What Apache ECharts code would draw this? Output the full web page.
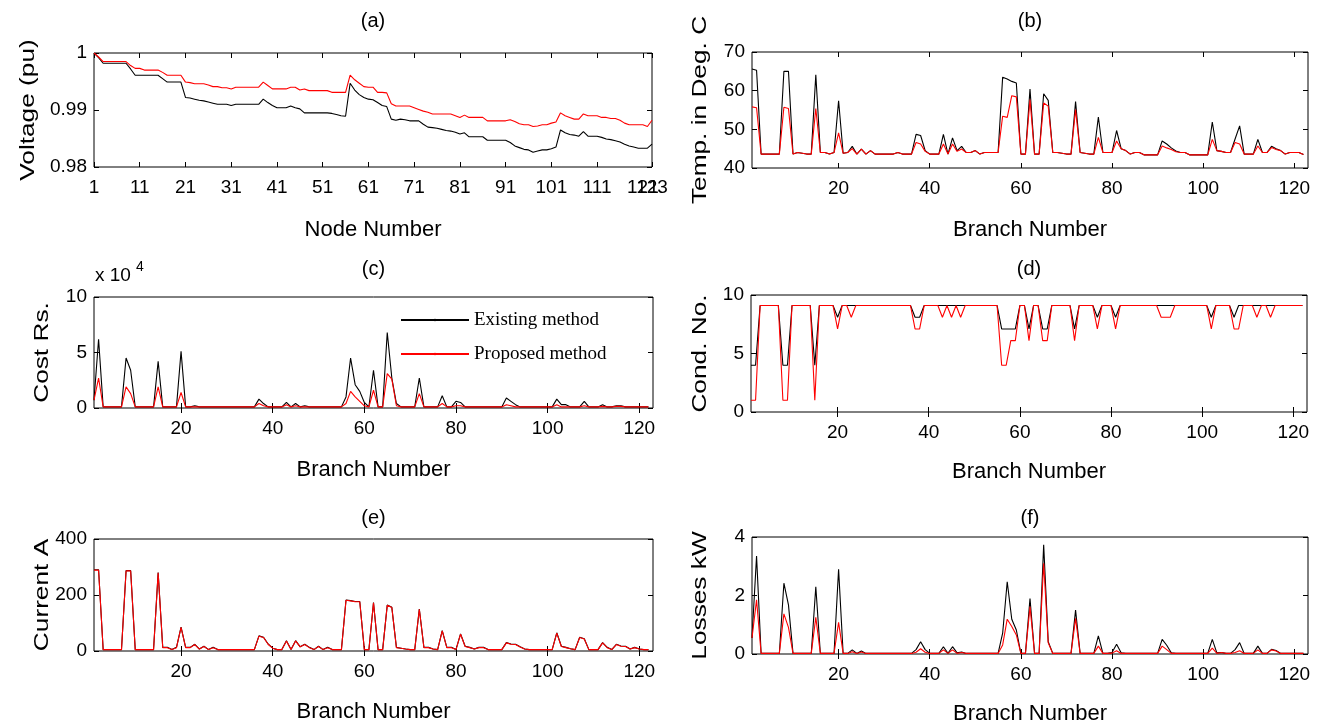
<!DOCTYPE html>
<html><head><meta charset="utf-8">
<script src="https://cdn.jsdelivr.net/npm/echarts@6/dist/echarts.min.js"></script>
<style>html,body{margin:0;padding:0;background:#fff}#c{width:1330px;height:726px}</style>
</head><body><div id="c"></div>
<script>
// ---------- tick labels ----------
const nodeTicks = [1, 11, 21, 31, 41, 51, 61, 71, 81, 91, 101, 111, 121, 123];
const nodeTickOverlap = [121];
const branchTicks = [20, 40, 60, 80, 100, 120];
const voltageTicks = [0.98, 0.99, 1];
const tempTicks = [40, 50, 60, 70];
const costTicks = [0, 50000, 100000];
const condTicks = [0, 5, 10];
const currentTicks = [0, 200, 400];
const lossTicks = [0, 2, 4];

// ---------- (a) node voltage, pu (nodes 1..123) ----------
const voltageExisting = [
 1.0000,0.9992,0.9982,0.9982,0.9982,0.9982,0.9982,0.9982,0.9972,0.9961,
 0.9961,0.9961,0.9961,0.9961,0.9961,0.9955,0.9949,0.9949,0.9949,0.9949,
 0.9922,0.9921,0.9919,0.9917,0.9916,0.9914,0.9912,0.9910,0.9910,0.9910,
 0.9908,0.9910,0.9910,0.9910,0.9910,0.9910,0.9910,0.9919,0.9913,0.9908,
 0.9904,0.9904,0.9904,0.9907,0.9904,0.9902,0.9895,0.9895,0.9895,0.9895,
 0.9895,0.9895,0.9894,0.9892,0.9890,0.9889,0.9947,0.9935,0.9927,0.9922,
 0.9919,0.9918,0.9913,0.9908,0.9906,0.9884,0.9882,0.9884,0.9883,0.9881,
 0.9881,0.9881,0.9875,0.9870,0.9869,0.9868,0.9866,0.9864,0.9863,0.9861,
 0.9858,0.9860,0.9853,0.9853,0.9853,0.9853,0.9847,0.9847,0.9847,0.9847,
 0.9847,0.9843,0.9837,0.9834,0.9831,0.9830,0.9826,0.9828,0.9830,0.9830,
 0.9832,0.9835,0.9865,0.9860,0.9857,0.9856,0.9854,0.9862,0.9854,0.9854,
 0.9854,0.9852,0.9849,0.9848,0.9846,0.9844,0.9840,0.9837,0.9835,0.9833,
 0.9833,0.9833,0.9840
];
const voltageProposed = [
 1.0000,0.9993,0.9985,0.9985,0.9985,0.9985,0.9985,0.9985,0.9978,0.9973,
 0.9973,0.9970,0.9970,0.9970,0.9970,0.9966,0.9961,0.9961,0.9961,0.9961,
 0.9949,0.9948,0.9946,0.9946,0.9946,0.9944,0.9941,0.9941,0.9939,0.9939,
 0.9937,0.9940,0.9940,0.9940,0.9940,0.9940,0.9940,0.9949,0.9943,0.9937,
 0.9937,0.9937,0.9937,0.9940,0.9940,0.9935,0.9937,0.9934,0.9934,0.9934,
 0.9934,0.9934,0.9931,0.9931,0.9931,0.9931,0.9961,0.9953,0.9947,0.9941,
 0.9940,0.9940,0.9931,0.9931,0.9930,0.9911,0.9907,0.9907,0.9907,0.9907,
 0.9904,0.9901,0.9898,0.9896,0.9893,0.9893,0.9893,0.9893,0.9893,0.9890,
 0.9887,0.9891,0.9887,0.9887,0.9887,0.9887,0.9881,0.9881,0.9881,0.9881,
 0.9881,0.9883,0.9880,0.9876,0.9874,0.9874,0.9871,0.9872,0.9874,0.9874,
 0.9877,0.9879,0.9895,0.9890,0.9887,0.9884,0.9884,0.9893,0.9890,0.9890,
 0.9890,0.9887,0.9887,0.9885,0.9885,0.9882,0.9877,0.9874,0.9874,0.9874,
 0.9874,0.9871,0.9882
];

// ---------- (b) conductor temperature, deg C (branches 1..122) ----------
const tempExisting = [
 65.6,65.3,43.6,43.6,43.6,43.6,43.6,65.0,65.0,43.6,
 44.0,43.8,43.6,43.6,64.1,44.0,44.0,43.6,44.0,57.4,
 43.8,44.0,45.6,43.6,44.9,43.6,44.5,43.6,43.6,43.6,
 43.6,43.6,44.0,43.6,43.6,43.6,48.7,48.4,44.5,43.6,
 43.6,43.6,48.7,43.6,47.8,44.5,45.6,44.0,44.0,44.5,
 43.6,44.0,44.0,44.0,44.0,63.5,63.0,62.4,62.0,43.6,
 43.6,60.4,43.6,43.6,59.2,57.5,44.0,44.0,43.8,43.6,
 43.6,57.2,44.0,43.8,43.6,43.6,53.2,44.0,44.0,44.0,
 49.7,45.0,44.5,43.6,44.0,44.0,43.4,43.4,43.4,43.4,
 47.0,46.2,45.2,44.4,44.0,44.0,43.4,43.4,43.4,43.4,
 43.4,51.9,44.5,44.3,44.0,44.0,47.5,50.9,43.6,43.6,
 43.6,47.4,44.0,44.0,45.6,45.0,44.5,43.6,44.0,44.0,
 44.0,43.5
];
const tempProposed = [
 55.8,55.6,43.6,43.6,43.6,43.6,43.6,55.7,55.4,43.6,
 44.0,43.8,43.6,43.6,55.4,44.0,44.0,43.6,44.0,49.1,
 43.8,44.0,45.0,43.6,44.9,43.6,44.5,43.6,43.6,43.6,
 43.6,43.6,44.0,43.6,43.6,43.6,46.6,46.2,44.3,43.6,
 43.6,43.6,46.2,43.6,46.2,44.3,44.9,44.0,44.0,44.5,
 43.6,44.0,44.0,44.0,44.0,53.4,53.1,58.7,58.4,43.6,
 43.6,57.7,43.6,43.6,56.8,56.0,44.0,44.0,43.8,43.6,
 43.6,55.1,44.0,43.8,43.6,43.6,47.9,44.0,44.0,44.0,
 47.0,45.0,44.5,43.6,44.0,44.0,43.4,43.4,43.4,43.4,
 45.7,45.2,44.8,44.2,44.0,44.0,43.4,43.4,43.4,43.4,
 43.4,47.4,44.5,44.3,44.0,44.0,46.6,46.2,43.6,43.6,
 43.6,45.7,44.0,44.0,45.3,44.8,44.5,43.6,44.0,44.0,
 44.0,43.5
];

// ---------- (c) cost, Rs. ----------
const costExisting = [
 7000,62000,1000,1000,1000,1000,1000,45000,34000,1000,
 1000,1000,1000,1000,42000,1000,1000,1000,1000,51000,
 1000,1000,2000,1000,1000,1000,1000,1000,1000,1000,
 1000,1000,1000,1000,1000,1000,8000,4000,1000,1000,
 1000,1000,5000,1000,4000,1000,2000,1000,1000,1000,
 1000,1000,1000,1000,1000,10000,45000,21000,15000,5000,
 1000,34000,1000,1000,68000,27000,4000,1000,1000,1000,
 1000,27000,1000,1000,1000,1000,11000,1000,1000,6000,
 5000,1000,1000,1000,1000,1000,1000,1000,1000,1000,
 9000,6000,3000,1000,1000,1000,1000,1000,1000,1000,
 1000,8000,3000,3000,1000,1000,1000,6000,1000,1000,
 1000,3000,1000,1000,2000,2000,1000,1000,1000,1000,
 1000,1000
];
const costProposed = [
 7000,27000,1000,1000,1000,1000,1000,19000,13000,1000,
 1000,1000,1000,1000,19000,1000,1000,1000,1000,14000,
 1000,1000,1000,1000,1000,1000,1000,1000,1000,1000,
 1000,1000,1000,1000,1000,1000,4000,2000,1000,1000,
 1000,1000,3000,1000,2000,1000,1000,1000,1000,1000,
 1000,1000,1000,1000,1000,4000,15000,10000,6000,2000,
 1000,16000,1000,1000,31000,26000,2000,1000,1000,1000,
 1000,13000,1000,1000,1000,1000,4000,1000,1000,2000,
 2000,1000,1000,1000,1000,1000,1000,1000,1000,1000,
 3000,2000,1000,1000,1000,1000,1000,1000,1000,1000,
 1000,3000,1000,1000,1000,1000,1000,2000,1000,1000,
 1000,1500,1000,1000,1500,1500,1000,1000,1000,1000,
 1000,1000
];

// ---------- (d) conductor number ----------
const condExisting = [
 4.0,4.0,9.1,9.1,9.1,9.1,9.1,4.0,4.0,9.1,
 9.1,9.1,9.1,9.1,4.0,9.1,9.1,9.1,9.1,8.1,
 9.1,9.1,9.1,9.1,9.1,9.1,9.1,9.1,9.1,9.1,
 9.1,9.1,9.1,9.1,9.1,9.1,8.1,8.1,9.1,9.1,
 9.1,9.1,9.1,9.1,9.1,9.1,9.1,9.1,9.1,9.1,
 9.1,9.1,9.1,9.1,9.1,7.1,7.1,7.1,7.1,9.1,
 9.1,7.1,9.1,9.1,7.1,7.1,9.1,9.1,9.1,9.1,
 9.1,7.1,9.1,9.1,9.1,9.1,8.1,9.1,9.1,9.1,
 8.1,9.1,9.1,9.1,9.1,9.1,9.1,9.1,9.1,9.1,
 9.1,9.1,9.1,9.1,9.1,9.1,9.1,9.1,9.1,9.1,
 9.1,8.1,9.1,9.1,9.1,9.1,8.1,9.1,9.1,9.1,
 9.1,9.1,9.1,9.1,9.1,9.1,9.1,9.1,9.1,9.1,
 9.1,9.1
];
const condProposed = [
 1.0,1.0,9.1,9.1,9.1,9.1,9.1,1.0,1.0,9.1,
 9.1,9.1,9.1,9.1,1.0,9.1,9.1,9.1,9.1,7.1,
 9.1,9.1,8.1,9.1,9.1,9.1,9.1,9.1,9.1,9.1,
 9.1,9.1,9.1,9.1,9.1,9.1,7.1,7.1,9.1,9.1,
 9.1,9.1,8.1,9.1,8.1,9.1,8.1,9.1,9.1,9.1,
 9.1,9.1,9.1,9.1,9.1,4.0,4.0,6.1,6.1,9.1,
 9.1,6.1,9.1,9.1,6.1,6.1,9.1,9.1,9.1,9.1,
 9.1,6.1,9.1,9.1,9.1,9.1,7.1,9.1,9.1,9.1,
 7.1,9.1,9.1,9.1,9.1,9.1,9.1,9.1,9.1,9.1,
 8.1,8.1,8.1,9.1,9.1,9.1,9.1,9.1,9.1,9.1,
 9.1,7.1,9.1,9.1,9.1,9.1,7.1,7.1,9.1,9.1,
 9.1,8.1,9.1,9.1,8.1,9.1,9.1,9.1,9.1,9.1,
 9.1,9.1
];

// ---------- (e) current, A ----------
const currentExisting = [
 290,290,5,5,5,5,5,287,287,5,
 5,5,5,5,280,13,13,5,13,85,
 13,13,24,7,17,5,13,5,5,5,
 5,5,5,5,5,5,54,49,25,10,
 5,5,37,5,37,15,24,13,5,17,
 5,13,5,5,5,182,180,177,177,5,
 5,173,5,5,164,156,13,10,7,5,
 5,150,13,13,7,5,73,13,13,5,
 61,17,13,7,13,13,5,5,5,5,
 30,25,24,15,7,5,5,5,5,5,
 5,65,17,13,8,5,49,44,5,5,
 5,30,13,5,24,18,17,7,13,7,
 5,5
];
const currentProposed = [
 289,289,5,5,5,5,5,286,286,5,
 5,5,5,5,279,12,12,5,12,84,
 12,12,23,7,16,5,12,5,5,5,
 5,5,5,5,5,5,53,48,24,10,
 5,5,36,5,36,15,23,12,5,16,
 5,12,5,5,5,181,179,176,176,5,
 5,172,5,5,163,155,12,10,7,5,
 5,149,12,12,7,5,72,12,12,5,
 60,16,12,7,12,12,5,5,5,5,
 29,24,23,14,7,5,5,5,5,5,
 5,64,16,12,8,5,48,43,5,5,
 5,29,12,5,23,17,16,7,12,7,
 5,5
];

// ---------- (f) losses, kW ----------
const lossExisting = [
 0.55,3.35,0.02,0.02,0.02,0.02,0.02,2.42,1.68,0.02,
 0.02,0.02,0.02,0.02,2.30,0.02,0.02,0.02,0.02,2.90,
 0.02,0.02,0.14,0.02,0.10,0.02,0.02,0.02,0.02,0.02,
 0.02,0.02,0.02,0.02,0.02,0.02,0.15,0.42,0.15,0.02,
 0.02,0.02,0.25,0.02,0.25,0.04,0.07,0.02,0.02,0.02,
 0.02,0.02,0.02,0.02,0.02,0.71,2.47,1.19,0.82,0.02,
 0.02,1.90,0.02,0.02,3.73,0.42,0.02,0.02,0.02,0.02,
 0.02,1.50,0.02,0.02,0.02,0.02,0.62,0.02,0.02,0.05,
 0.33,0.04,0.02,0.02,0.02,0.02,0.02,0.02,0.02,0.02,
 0.50,0.30,0.04,0.02,0.02,0.02,0.02,0.02,0.02,0.02,
 0.02,0.50,0.04,0.05,0.02,0.02,0.15,0.39,0.02,0.02,
 0.02,0.27,0.02,0.02,0.16,0.12,0.02,0.02,0.02,0.02,
 0.02,0.02
];
const lossProposed = [
 0.55,1.85,0.02,0.02,0.02,0.02,0.02,1.37,0.91,0.02,
 0.02,0.02,0.02,0.02,1.25,0.02,0.02,0.02,0.02,1.08,
 0.02,0.02,0.08,0.02,0.07,0.02,0.02,0.02,0.02,0.02,
 0.02,0.02,0.02,0.02,0.02,0.02,0.06,0.18,0.06,0.02,
 0.02,0.02,0.14,0.02,0.14,0.02,0.05,0.02,0.02,0.02,
 0.02,0.02,0.02,0.02,0.02,0.31,1.19,0.94,0.65,0.02,
 0.02,1.62,0.02,0.02,3.10,0.38,0.02,0.02,0.02,0.02,
 0.02,1.22,0.02,0.02,0.02,0.02,0.27,0.02,0.02,0.03,
 0.11,0.02,0.02,0.02,0.02,0.02,0.02,0.02,0.02,0.02,
 0.27,0.15,0.02,0.02,0.02,0.02,0.02,0.02,0.02,0.02,
 0.02,0.20,0.02,0.05,0.02,0.02,0.05,0.11,0.02,0.02,
 0.02,0.14,0.02,0.02,0.14,0.10,0.02,0.02,0.02,0.02,
 0.02,0.02
];

const seriesNames = ['Existing method', 'Proposed method'];

// ---------- layout / style ----------
const SANS = "'Liberation Sans', Arial, sans-serif";
const SERIF = "'Liberation Serif', 'Times New Roman', serif";
const panels = [
  {title:'(a)', xName:'Node Number',   yName:'Voltage (pu)',    ex:voltageExisting, pr:voltageProposed, yMin:0.98, yMax:1,      yTicks:voltageTicks, xTicks:nodeTicks,   box:[94,53,558,114],  xGap:52, yNameX:28,  tY:11,  edge:true},
  {title:'(b)', xName:'Branch Number', yName:'Temp. in Deg. C', ex:tempExisting,    pr:tempProposed,    yMin:40,   yMax:70,     yTicks:tempTicks,    xTicks:branchTicks, box:[752,52,556,116], xGap:51, yNameX:700, tY:11},
  {title:'(c)', xName:'Branch Number', yName:'Cost Rs.',        ex:costExisting,    pr:costProposed,    yMin:0,    yMax:100000, yTicks:costTicks,    xTicks:branchTicks, box:[94,297,559,111], xGap:51, yNameX:42,  tY:259, fmt:v=>String(v/10000)},
  {title:'(d)', xName:'Branch Number', yName:'Cond. No.',       ex:condExisting,    pr:condProposed,    yMin:0,    yMax:10,     yTicks:condTicks,    xTicks:branchTicks, box:[751,295,556,117],xGap:49, yNameX:700, tY:259},
  {title:'(e)', xName:'Branch Number', yName:'Current A',       ex:currentExisting, pr:currentProposed, yMin:0,    yMax:400,    yTicks:currentTicks, xTicks:branchTicks, box:[94,539,559,112], xGap:50, yNameX:42,  tY:508},
  {title:'(f)', xName:'Branch Number', yName:'Losses kW',       ex:lossExisting,    pr:lossProposed,    yMin:0,    yMax:4,      yTicks:lossTicks,    xTicks:branchTicks, box:[752,537,556,117],xGap:49, yNameX:700, tY:508},
];

const grid = [], xAxis = [], yAxis = [], series = [], title = [], graphic = [];
const tickStyle = {show:true, inside:true, length:5, lineStyle:{color:'#000', width:1}};
const labelStyle = {color:'#000', fontSize:19, fontFamily:SANS};
const nameStyle = {color:'#000', fontSize:22, fontFamily:SANS};

panels.forEach((p, i) => {
  const [l, t, w, h] = p.box;
  grid.push({left:l, top:t, width:w, height:h, show:true, borderColor:'#000', borderWidth:1, backgroundColor:'#fff', containLabel:false});
  const common = {type:'value', gridIndex:i, min:1, max:123, splitLine:{show:false}, axisLine:{show:false}};
  const xi = xAxis.length, yi = yAxis.length;
  xAxis.push(Object.assign({}, common, {
    position:'bottom',
    axisTick:Object.assign({customValues:p.xTicks}, tickStyle),
    axisLabel:Object.assign({customValues:p.xTicks, margin:11, hideOverlap:false},
      p.edge ? {showMinLabel:true, showMaxLabel:true} : {}, labelStyle),
    name:p.xName, nameLocation:'middle', nameGap:p.xGap, nameTextStyle:nameStyle
  }));
  xAxis.push(Object.assign({}, common, {
    position:'top',
    axisTick:Object.assign({customValues:p.xTicks}, tickStyle),
    axisLabel:{show:false}
  }));
  if (p.edge) {
    // the "121" label that overlaps "123" in the reference
    xAxis.push(Object.assign({}, common, {
      position:'bottom', axisTick:{show:false},
      axisLabel:Object.assign({customValues:nodeTickOverlap, margin:11, hideOverlap:false}, labelStyle)
    }));
  }
  const yc = {type:'value', gridIndex:i, min:p.yMin, max:p.yMax, splitLine:{show:false}, axisLine:{show:false}};
  yAxis.push(Object.assign({}, yc, {
    position:'left',
    axisTick:Object.assign({customValues:p.yTicks}, tickStyle),
    axisLabel:Object.assign({customValues:p.yTicks, margin:7, formatter:p.fmt || (v => String(+v.toFixed(4)))}, labelStyle)
  }));
  yAxis.push(Object.assign({}, yc, {
    position:'right',
    axisTick:Object.assign({customValues:p.yTicks}, tickStyle),
    axisLabel:{show:false}
  }));
  series.push({
    name:seriesNames[0], type:'line', xAxisIndex:xi, yAxisIndex:yi,
    data:p.ex.map((v, k) => [k + 1, v]), symbol:'none', z:2,
    lineStyle:{color:'#000', width:1.1}, itemStyle:{color:'#000'}
  });
  series.push({
    name:seriesNames[1], type:'line', xAxisIndex:xi, yAxisIndex:yi,
    data:p.pr.map((v, k) => [k + 1, v]), symbol:'none', z:3,
    lineStyle:{color:'#ff0000', width:1.1}, itemStyle:{color:'#ff0000'}
  });
  title.push({text:p.title, left:l + w/2, top:p.tY, textAlign:'center', padding:0,
    textStyle:{color:'#000', fontSize:20, fontWeight:'normal', fontFamily:SANS}});
  // rotated y-axis title (slightly elongated like the reference)
  graphic.push({type:'text', x:p.yNameX, y:t + h/2, rotation:Math.PI/2, scaleX:1.25, scaleY:1, silent:true,
    style:{text:p.yName, fill:'#000', fontSize:21, fontFamily:SANS,
      align:'center', verticalAlign:'middle', textAlign:'center', textVerticalAlign:'middle'}});
});
// "x 10^4" multiplier for panel (c)
title.push({text:'x 10', left:95, top:266, padding:0, textStyle:{color:'#000', fontSize:19, fontWeight:'normal', fontFamily:SANS}});
title.push({text:'4', left:136, top:260, padding:0, textStyle:{color:'#000', fontSize:14, fontWeight:'normal', fontFamily:SANS}});

const chart = echarts.init(document.getElementById('c'), null, {renderer:'canvas'});
chart.setOption({
  animation:false,
  backgroundColor:'#fff',
  title, grid, xAxis, yAxis, series, graphic,
  legend:{
    data:seriesNames, orient:'vertical', left:400, top:309, padding:0,
    itemWidth:68, itemHeight:3, itemGap:12,
    textStyle:{color:'#000', fontSize:19, fontFamily:SERIF, lineHeight:22},
    backgroundColor:'transparent', selectedMode:false
  }
});
</script>
</body></html>
